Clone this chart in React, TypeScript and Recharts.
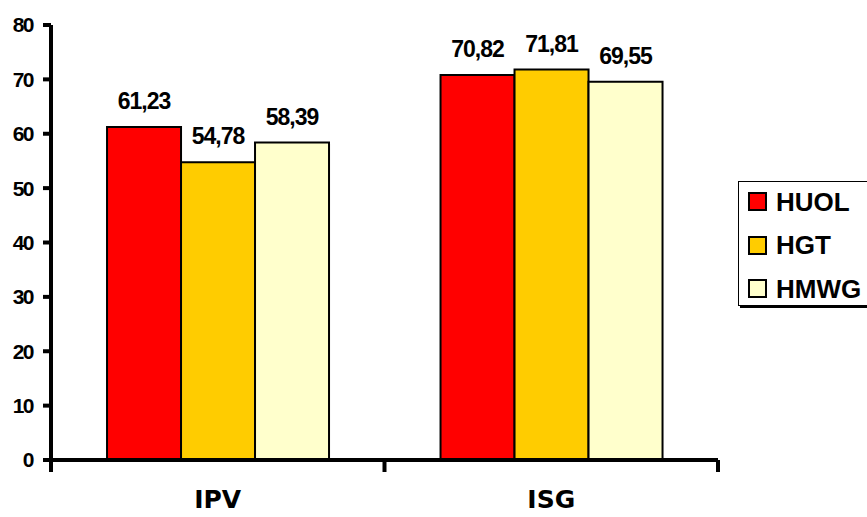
import React from "react";
import { BarChart, Bar, XAxis, YAxis, LabelList } from "recharts";

const categories = ["IPV", "ISG"];
const huol = [61.23, 70.82];
const hgt = [54.78, 71.81];
const hmwg = [58.39, 69.55];
const yTicks = [0, 10, 20, 30, 40, 50, 60, 70, 80];

const seriesInfo = [
  { key: "HUOL", color: "#FF0000" },
  { key: "HGT", color: "#FFCC00" },
  { key: "HMWG", color: "#FFFFCC" },
];

const data = categories.map((c, i) => ({
  name: c,
  HUOL: huol[i],
  HGT: hgt[i],
  HMWG: hmwg[i],
}));

const fmt = (v: any) => String(Number(v).toFixed(2)).replace(".", ",");

const XTick = (props: any) => {
  const { x, y, payload, width, index } = props;
  const band =
    payload && typeof payload.offset === "number" && payload.offset > 0
      ? payload.offset * 2
      : width / categories.length;
  const left = payload.coordinate - band / 2;
  const right = payload.coordinate + band / 2;
  return (
    <g>
      <line x1={left} y1={y} x2={left} y2={y + 12} stroke="#000" strokeWidth={4} />
      {index === categories.length - 1 && (
        <line x1={right} y1={y} x2={right} y2={y + 12} stroke="#000" strokeWidth={4} />
      )}
      <text
        x={x}
        y={y + 48}
        textAnchor="middle"
        fontFamily="'DejaVu Sans', sans-serif"
        fontWeight="bold"
        fontSize={25}
        fill="#000"
      >
        {payload.value}
      </text>
    </g>
  );
};

const LegendBox = () => (
  <div
    style={{
      position: "absolute",
      left: 738,
      top: 181,
      border: "1px solid #000",
      boxShadow: "2px 2px 0 #000",
      background: "#fff",
      width: 140,
      height: 125,
      boxSizing: "border-box",
      paddingLeft: 9,
    }}
  >
    {seriesInfo.map((s, i) => (
      <div
        key={s.key}
        style={{
          display: "flex",
          alignItems: "center",
          height: 43.5,
          marginTop: i === 0 ? -2 : 0,
        }}
      >
        <div
          style={{
            width: 15,
            height: 15,
            background: s.color,
            border: "2px solid #000",
            marginRight: 9,
            flexShrink: 0,
          }}
        />
        <span
          style={{
            fontFamily: "'Liberation Sans', Arial, sans-serif",
            fontWeight: "bold",
            fontSize: 26,
            color: "#000",
            lineHeight: "26px",
            whiteSpace: "nowrap",
          }}
        >
          {s.key}
        </span>
      </div>
    ))}
  </div>
);

export default function App() {
  return (
    <div
      style={{
        position: "absolute",
        left: 0,
        top: 0,
        width: 867,
        height: 517,
        overflow: "hidden",
        background: "#fff",
      }}
    >
      <BarChart
        width={867}
        height={517}
        data={data}
        margin={{ top: 25, right: 149, left: 0, bottom: 0 }}
        barCategoryGap="16.8%"
        barGap={0}
      >
        <XAxis
          dataKey="name"
          height={57}
          axisLine={{ stroke: "#000", strokeWidth: 4 }}
          tickLine={false}
          tickSize={0}
          tickMargin={0}
          tick={<XTick />}
          interval={0}
        />
        <YAxis
          width={51}
          domain={[0, 80]}
          ticks={yTicks}
          axisLine={{ stroke: "#000", strokeWidth: 4 }}
          tickLine={{ stroke: "#000", strokeWidth: 4 }}
          tickSize={8}
          tickMargin={10}
          tick={{
            fill: "#000",
            fontSize: 21,
            fontWeight: "bold",
            letterSpacing: -1.5,
            fontFamily: "'Liberation Sans', Arial, sans-serif",
          }}
        />
        {seriesInfo.map((s) => (
          <Bar
            key={s.key}
            dataKey={s.key}
            fill={s.color}
            stroke="#000"
            strokeWidth={2}
            isAnimationActive={false}
          >
            <LabelList
              dataKey={s.key}
              position="top"
              offset={18}
              formatter={fmt}
              style={{
                fill: "#000",
                fontSize: 23,
                fontWeight: "bold",
                letterSpacing: -1,
                fontFamily: "'Liberation Sans', Arial, sans-serif",
              }}
            />
          </Bar>
        ))}
      </BarChart>
      <LegendBox />
    </div>
  );
}
